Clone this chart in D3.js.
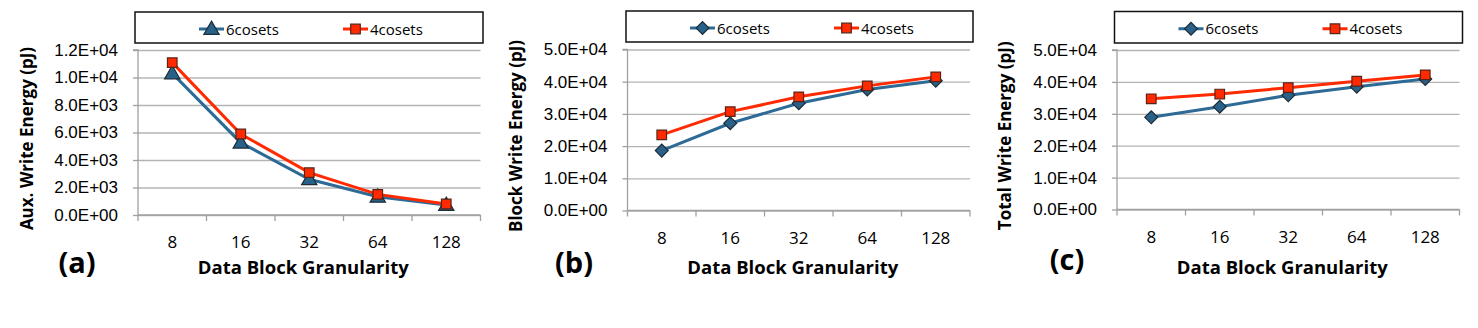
<!DOCTYPE html>
<html>
<head>
<meta charset="utf-8">
<script src="https://cdn.jsdelivr.net/npm/d3@7"></script>
<style>
  body { margin: 0; background: #fff; }
  svg { display: block; font-family: "Open Sans", sans-serif; }
  .grid line { stroke: #b4b4b4; stroke-width: 1.3; }
  .grid path { display: none; }
  .yaxis path, .yaxis line { stroke: #a0a0a0; stroke-width: 1.3; }
  .tick text { fill: #000; }
</style>
</head>
<body>
<div class="wrapper"></div>
<script>
// values
var categories = ["8", "16", "32", "64", "128"];
var seriesNames = ["6cosets", "4cosets"];

var auxSix = [10300, 5260, 2600, 1330, 730];
var auxFour = [11080, 5890, 3080, 1500, 800];
var blockSix = [18600, 27100, 33300, 37600, 40300];
var blockFour = [23500, 30700, 35300, 38700, 41500];
var totalSix = [28900, 32200, 35800, 38500, 40900];
var totalFour = [34700, 36200, 38200, 40200, 42200];

var auxTicks = [0, 2000, 4000, 6000, 8000, 10000, 12000];
var energyTicks = [0, 10000, 20000, 30000, 40000, 50000];

var colors = { six: "#2d6a95", four: "#ff2a00" };

var panels = [
  {
    label: "(a)", title: "Aux. Write Energy (pJ)",
    six: auxSix, four: auxFour, ticks: auxTicks, max: 12000, marker: "triangle",
    left: 138, right: 480.5, top: 50, bottom: 215,
    legend: [135, 12, 348, 31], labelX: 77, labelY: 263, titleX: 27
  },
  {
    label: "(b)", title: "Block Write Energy (pJ)",
    six: blockSix, four: blockFour, ticks: energyTicks, max: 50000, marker: "diamond",
    left: 627.5, right: 970, top: 49.5, bottom: 210.5,
    legend: [626, 11, 347, 31], labelX: 574, labelY: 263, titleX: 516
  },
  {
    label: "(c)", title: "Total Write Energy (pJ)",
    six: totalSix, four: totalFour, ticks: energyTicks, max: 50000, marker: "diamond",
    left: 1117, right: 1459.5, top: 50, bottom: 209.5,
    legend: [1114.5, 11.5, 348, 31.5], labelX: 1067, labelY: 260, titleX: 1005
  }
];

var svg = d3.select(".wrapper").append("svg")
  .attr("width", 1478)
  .attr("height", 328);

function sciFormat(d) {
  if (d === 0) return "0.0E+00";
  var e = Math.floor(Math.log10(d));
  var m = (d / Math.pow(10, e)).toFixed(1);
  return m + "E+" + String(e).padStart(2, "0");
}

function markerPath(type, size) {
  if (type === "triangle") return d3.symbol().type(d3.symbolTriangle).size(size * 1.1)();
  if (type === "diamond") return d3.symbol().type(d3.symbolSquare).size(size * 0.9)();
  return d3.symbol().type(d3.symbolSquare).size(size)();
}

function drawMarker(g, type, x, y, fill, stroke) {
  var m = g.append("path")
    .attr("d", markerPath(type, 92))
    .attr("fill", fill)
    .attr("stroke", stroke)
    .attr("stroke-width", 1.2);
  if (type === "diamond") m.attr("transform", `translate(${x},${y}) rotate(45)`);
  else if (type === "triangle") m.attr("transform", `translate(${x},${y + 1})`);
  else m.attr("transform", `translate(${x},${y})`);
}

function drawPanel(p) {
  var g = svg.append("g");

  var x = d3.scaleBand().domain(categories).range([p.left, p.right]).padding(0);
  var y = d3.scaleLinear().domain([0, p.max]).range([p.bottom, p.top]);
  var cx = c => x(c) + x.bandwidth() / 2;

  // gridlines
  g.append("g")
    .attr("class", "grid")
    .attr("transform", `translate(${p.left},0)`)
    .call(d3.axisLeft(y).tickValues(p.ticks).tickSize(-(p.right - p.left)).tickFormat(""));

  // y axis
  g.append("g")
    .attr("class", "yaxis")
    .attr("transform", `translate(${p.left},0)`)
    .call(d3.axisLeft(y).tickValues(p.ticks).tickSize(5).tickPadding(15).tickFormat(sciFormat))
    .call(a => a.select(".domain").attr("d", `M-5,${p.top}H0V${p.bottom}`))
    .selectAll("text")
    .style("font-size", "17px");

  // x axis line and boundary ticks
  var xa = g.append("g").attr("stroke", "#a0a0a0").attr("stroke-width", 1.3);
  xa.append("line")
    .attr("x1", p.left).attr("x2", p.right)
    .attr("y1", p.bottom).attr("y2", p.bottom);
  var bounds = categories.map(c => x(c)).concat([p.right]);
  xa.selectAll(".xt").data(bounds).enter().append("line")
    .attr("x1", d => d).attr("x2", d => d)
    .attr("y1", p.bottom).attr("y2", p.bottom + 6);

  g.selectAll(".xl").data(categories).enter().append("text")
    .attr("x", d => cx(d))
    .attr("y", p.bottom + 33)
    .attr("text-anchor", "middle")
    .style("font-size", "17px")
    .text(d => d);

  // axis titles
  g.append("text")
    .attr("x", (p.left + p.right) / 2 - 6)
    .attr("y", 274)
    .attr("text-anchor", "middle")
    .style("font-size", "18.5px")
    .style("font-weight", "bold")
    .text("Data Block Granularity");

  g.append("text")
    .attr("transform", `translate(${p.titleX + 6},${(p.top + p.bottom) / 2 + 6}) rotate(-90)`)
    .attr("text-anchor", "middle")
    .style("font-size", "17px")
    .style("font-weight", "bold")
    .text(p.title);

  g.append("text")
    .attr("x", p.labelX)
    .attr("y", p.labelY + 10)
    .attr("text-anchor", "middle")
    .style("font-size", "29px")
    .style("font-weight", "bold")
    .text(p.label);

  // series
  var line = d3.line().x((d, i) => cx(categories[i])).y(d => y(d));
  var series = [
    { values: p.six, color: colors.six, fill: "#2a6189", stroke: "#1c2c38", marker: p.marker },
    { values: p.four, color: colors.four, fill: "#ff2a00", stroke: "#5a2418", marker: "square" }
  ];
  series.forEach(s => {
    g.append("path")
      .attr("d", line(s.values))
      .attr("fill", "none")
      .attr("stroke", s.color)
      .attr("stroke-width", 3);
  });
  series.forEach(s => {
    s.values.forEach((v, i) => drawMarker(g, s.marker, cx(categories[i]), y(v), s.fill, s.stroke));
  });

  // legend
  var lg = g.append("g").attr("transform", `translate(${p.legend[0]},${p.legend[1]})`);
  lg.append("rect")
    .attr("width", p.legend[2]).attr("height", p.legend[3])
    .attr("fill", "#fff").attr("stroke", "#111").attr("stroke-width", 1.5);
  var cy = p.legend[3] / 2 + 1.5;
  [[64, 0], [208, 1]].forEach(([lx, k]) => {
    var s = series[k];
    lg.append("line")
      .attr("x1", lx).attr("x2", lx + 25)
      .attr("y1", cy).attr("y2", cy)
      .attr("stroke", s.color).attr("stroke-width", 3);
    drawMarker(lg, s.marker, lx + 12.5, cy, s.fill, s.stroke);
    lg.append("text")
      .attr("x", lx + 27)
      .attr("y", cy + 5.5)
      .style("font-size", "15px")
      .text(seriesNames[k]);
  });
}

panels.forEach(drawPanel);
</script>
</body>
</html>
